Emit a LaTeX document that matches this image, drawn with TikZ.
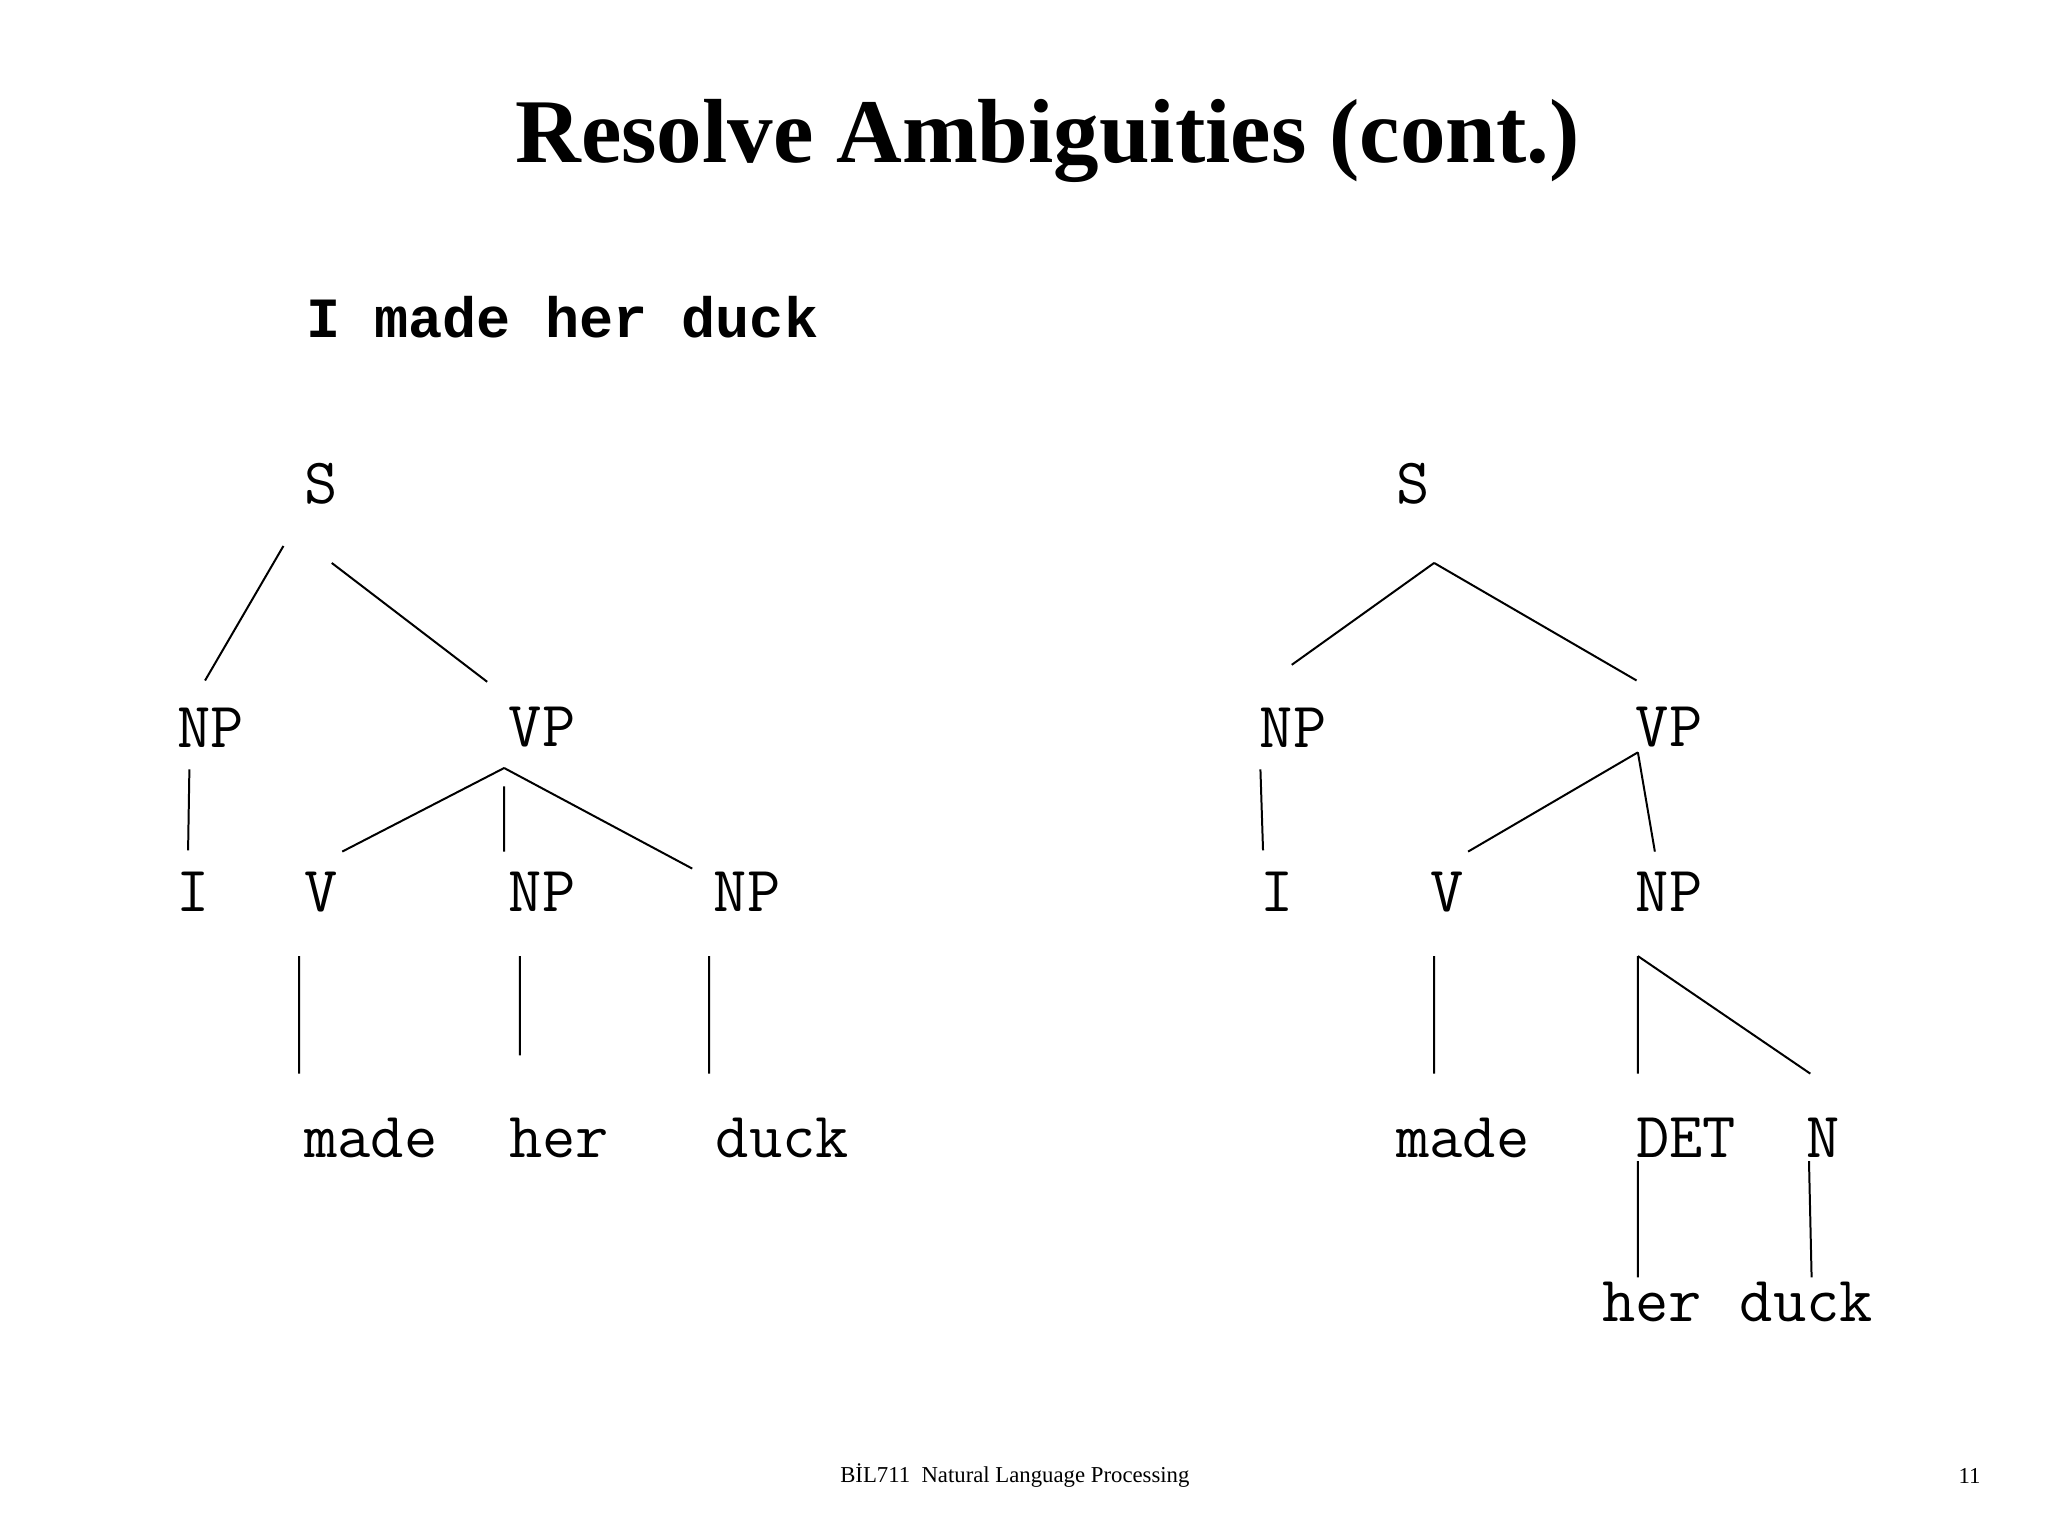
\documentclass[tikz,border=0pt]{standalone}
\usepackage{fontspec}
\setmainfont{Liberation Serif}
\newfontfamily\cour{Liberation Mono}
\begin{document}
\begin{tikzpicture}[x=0.4592pt,y=-0.4592pt,
  lbl/.style={inner sep=0pt,font=\ttfamily\fontsize{22.7}{26}\selectfont},
  edge/.style={line width=0.7pt}]
\useasboundingbox (0,0) rectangle (1568,1176);
\node[font=\bfseries\fontsize{32}{36}\selectfont] (title) at (802,108) {Resolve Ambiguities (cont.)};
\node[anchor=west,inner sep=0pt,font=\cour\bfseries\fontsize{20}{24}\selectfont] (sent) at (234,243) {I made her duck};
% left tree
\node[lbl] (lS) at (246,370) {S};
\node[lbl] (lNP) at (161,557) {NP};
\node[lbl] (lVP) at (415,557) {VP};
\node[lbl] (lI) at (148,683) {I};
\node[lbl] (lV) at (246,683) {V};
\node[lbl] (lNP2) at (415,683) {NP};
\node[lbl] (lNP3) at (572,683) {NP};
\node[lbl] (lmade) at (284,871) {made};
\node[lbl] (lher) at (428,871) {her};
\node[lbl] (lduck) at (599,871) {duck};
\draw[edge] (217,418)--(157,521) (254,431)--(373,522) (145,589)--(144,651)
  (386,588)--(262,652) (386,602)--(386,652) (386,588)--(530,665)
  (229,732)--(229,822) (398,732)--(398,808) (543,732)--(543,822);
% right tree
\node[lbl] (rS) at (1082,370) {S};
\node[lbl] (rNP) at (990,557) {NP};
\node[lbl] (rVP) at (1278,557) {VP};
\node[lbl] (rI) at (978,683) {I};
\node[lbl] (rV) at (1108,683) {V};
\node[lbl] (rNP2) at (1278,683) {NP};
\node[lbl] (rmade) at (1120,871) {made};
\node[lbl] (rDET) at (1291,871) {DET};
\node[lbl] (rN) at (1396,871) {N};
\node[lbl] (rher) at (1265,997) {her};
\node[lbl] (rduck) at (1383,997) {duck};
\draw[edge] (1098,431)--(989,509) (1098,431)--(1253,521) (965,589)--(967,651)
  (1254,576)--(1124,652) (1254,576)--(1267,652)
  (1098,732)--(1098,822) (1254,732)--(1254,822) (1254,732)--(1386,822)
  (1254,889)--(1254,978) (1385,889)--(1387,978);
\node[font=\fontsize{8}{10}\selectfont] (foot) at (777,1130) {BİL711\ \ Natural Language Processing};
\node[font=\fontsize{8}{10}\selectfont] (pg) at (1508,1130) {11};
\end{tikzpicture}
\end{document}
